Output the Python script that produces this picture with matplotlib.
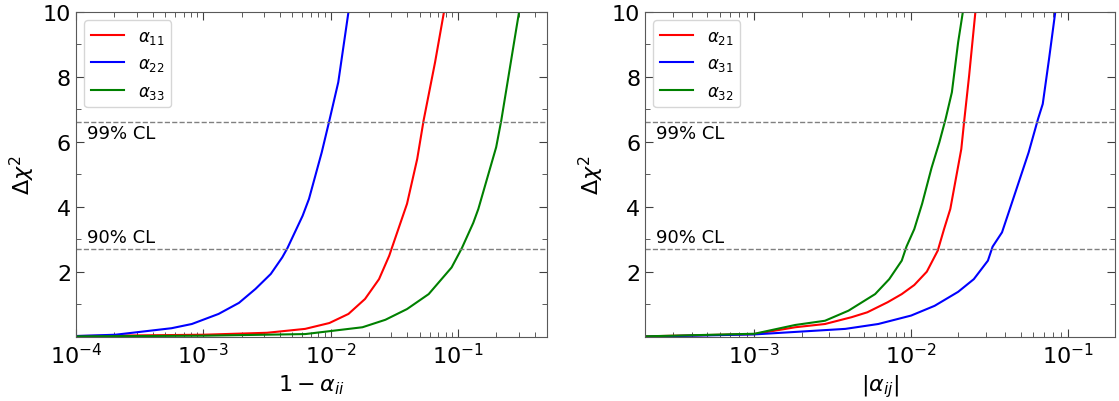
import matplotlib
matplotlib.use("Agg")
import matplotlib.pyplot as plt
import numpy as np

# left panel: 1 - alpha_ii  (x as log10, y = delta chi^2)
a11_logx = [-4.0, -3.0, -2.5, -2.20, -2.01, -1.86, -1.73, -1.62, -1.54, -1.52, -1.45, -1.40, -1.32, -1.27, -1.18, -1.11]
a11_chi2 = [0.03, 0.07, 0.13, 0.25, 0.43, 0.71, 1.17, 1.78, 2.50, 2.73, 3.53, 4.10, 5.48, 6.66, 8.45, 10.0]

a22_logx = [-4.0, -3.69, -3.25, -3.09, -2.88, -2.72, -2.59, -2.47, -2.38, -2.34, -2.22, -2.17, -2.07, -2.01, -1.94, -1.86]
a22_chi2 = [0.03, 0.07, 0.27, 0.40, 0.71, 1.05, 1.48, 1.94, 2.45, 2.73, 3.73, 4.25, 5.68, 6.66, 7.84, 10.0]

a33_logx = [-4.0, -3.0, -2.20, -1.75, -1.57, -1.40, -1.23, -1.05, -0.97, -0.88, -0.84, -0.70, -0.66, -0.54, -0.52]
a33_chi2 = [0.02, 0.04, 0.09, 0.30, 0.53, 0.86, 1.32, 2.14, 2.73, 3.51, 3.94, 5.84, 6.66, 9.53, 10.0]

# right panel: |alpha_ij|
a21_logx = [-3.7, -3.0, -2.74, -2.55, -2.38, -2.28, -2.15, -2.06, -1.98, -1.90, -1.83, -1.79, -1.75, -1.68, -1.66, -1.63, -1.59]
a21_chi2 = [0.02, 0.09, 0.30, 0.40, 0.61, 0.76, 1.07, 1.32, 1.60, 2.01, 2.66, 3.32, 3.94, 5.78, 6.71, 8.04, 10.0]

a31_logx = [-3.7, -3.0, -2.42, -2.21, -2.0, -1.85, -1.70, -1.60, -1.51, -1.48, -1.42, -1.37, -1.25, -1.19, -1.16, -1.12, -1.08]
a31_chi2 = [0.01, 0.08, 0.25, 0.40, 0.66, 0.96, 1.39, 1.78, 2.35, 2.78, 3.22, 3.94, 5.68, 6.71, 7.17, 8.55, 10.0]

a32_logx = [-3.7, -3.0, -2.74, -2.55, -2.40, -2.23, -2.14, -2.06, -2.03, -1.98, -1.93, -1.87, -1.82, -1.78, -1.74, -1.70, -1.67]
a32_chi2 = [0.02, 0.10, 0.37, 0.50, 0.81, 1.32, 1.78, 2.35, 2.78, 3.32, 4.10, 5.20, 5.99, 6.71, 7.53, 9.07, 10.0]

cl90 = 2.71
cl99 = 6.63

fig = plt.figure(figsize=(11.19, 4.02), dpi=100)
ax1 = fig.add_axes([0.0679, 0.1592, 0.4209, 0.8085])
ax2 = fig.add_axes([0.5764, 0.1592, 0.4200, 0.8085])

panels = [
    (ax1, [(a11_logx, a11_chi2, r"$\alpha_{11}$", "red"),
           (a22_logx, a22_chi2, r"$\alpha_{22}$", "blue"),
           (a33_logx, a33_chi2, r"$\alpha_{33}$", "green")],
     (1e-4, 0.5), r"$1-\alpha_{ii}$"),
    (ax2, [(a21_logx, a21_chi2, r"$\alpha_{21}$", "red"),
           (a31_logx, a31_chi2, r"$\alpha_{31}$", "blue"),
           (a32_logx, a32_chi2, r"$\alpha_{32}$", "green")],
     (2e-4, 0.2), r"$|\alpha_{ij}|$"),
]

for ax, curves, xlim, xlabel in panels:
    for lx, y, lab, c in curves:
        ax.plot(10 ** np.array(lx), y, color=c, lw=1.5, label=lab)
    ax.axhline(cl99, color="gray", ls="--", lw=1)
    ax.axhline(cl90, color="gray", ls="--", lw=1)
    ax.text(0.023, cl99 - 0.5, "99% CL", transform=ax.get_yaxis_transform(), fontsize=13)
    ax.text(0.023, cl90 + 0.2, "90% CL", transform=ax.get_yaxis_transform(), fontsize=13)
    ax.set_xscale("log")
    ax.set_xlim(*xlim)
    ax.set_ylim(0, 10)
    ax.set_yticks([2, 4, 6, 8, 10])
    ax.set_yticks([1, 3, 5, 7, 9], minor=True)
    ax.tick_params(which="both", direction="in", top=True, right=True,
                   labelsize=16, color="0.25")
    ax.tick_params(which="major", length=6)
    ax.tick_params(which="minor", length=3.5)
    for sp in ax.spines.values():
        sp.set_color("0.35")
    ax.set_xlabel(xlabel, fontsize=16)
    ax.set_ylabel(r"$\Delta\chi^2$", fontsize=16)
    ax.legend(loc="upper left", fontsize=12)

fig.savefig("out.png", dpi=100)
